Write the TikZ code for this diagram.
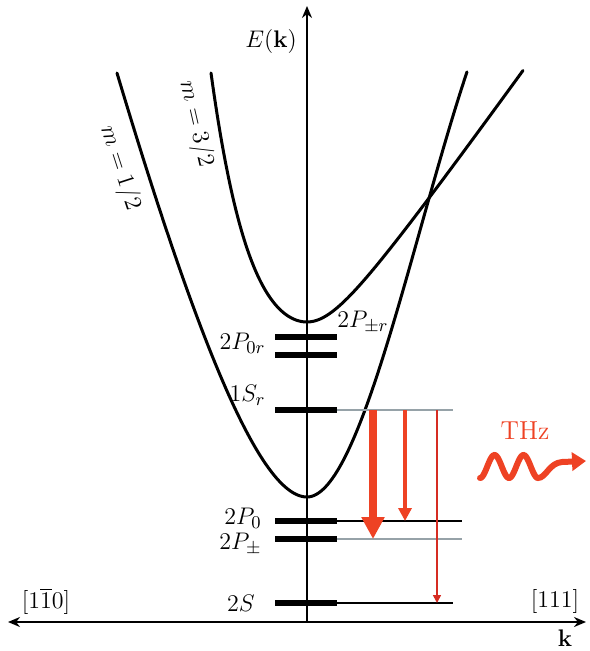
\documentclass[tikz,border=0pt]{standalone}
\usepackage{amsmath,amssymb}
\usepackage{tikz}
\usetikzlibrary{arrows.meta,positioning,calc}
\definecolor{EmitRed}{RGB}{238,66,36}
\definecolor{DeepRed}{RGB}{214,44,34}
\definecolor{GuideGray}{RGB}{150,162,168}

\begin{document}
\begin{tikzpicture}[x=0.5pt,y=-0.5pt,
  axis/.style={line width=1pt, -{Stealth[length=6pt,width=5pt]}},
  band/.style={line width=1.5pt, line cap=round, samples=70, smooth},
  level/.style={line width=2.6pt},
  guide/.style={line width=0.7pt},
  lbl/.style={font=\fontsize{13}{15}\selectfont, inner sep=1pt},
  trans/.style={color=EmitRed}
]
  \useasboundingbox (0,0) rectangle (589,651);

  % axes
  \coordinate (origin) at (307,622);
  \coordinate (etop) at (307,6);
  \coordinate (kleft) at (8,622);
  \coordinate (kright) at (586,622);
  \draw[axis] (origin) -- (etop);
  \draw[axis, {Stealth[length=6pt,width=5pt]}-{Stealth[length=6pt,width=5pt]}] (kleft) -- (kright);
  \node[lbl] (elabel) at (271,42) {$E(\mathbf{k})$};
  \node[lbl] (klabel) at (565,638) {$\mathbf{k}$};
  \node[lbl] (dirleft) at (46,601) {$[1\overline{1}0]$};
  \node[lbl] (dirright) at (555,601) {$[111]$};

  % bands (u = |k| in units of 10 px)
  \draw[band, domain=19:0] plot ({307-10*\x}, {497-100/(42.4+2.25*\x)*\x*\x});
  \draw[band, domain=0:16] plot ({307+10*\x}, {497-3.115*\x*\x+0.0909*\x*\x*\x});
  \draw[band, domain=9.6:0] plot ({307-10*\x}, {322-1.625*\x*\x-0.01169*\x*\x*\x*\x});
  \draw[band, domain=0:21.6] plot ({307+10*\x}, {322-55*(sqrt(1+(\x/3.94)^2)-1)});
  \node[lbl, rotate=-72] (mhalf) at (120,168) {$m = 1/2$};
  \node[lbl, rotate=-77] (mthree) at (196,124) {$m = 3/2$};

  % guide lines
  \draw[guide, GuideGray] (337,410) coordinate (sr) -- (453,410) coordinate (sr-e);
  \draw[guide] (337,521) coordinate (pz) -- (462,521) coordinate (pz-e);
  \draw[guide, GuideGray] (337,539) coordinate (ppm) -- (462,539) coordinate (ppm-e);
  \draw[guide] (337,603) coordinate (ss) -- (453,603) coordinate (ss-e);

  % levels
  \draw[level] (275,337) -- (337,337);
  \draw[level] (275,355) -- (337,355);
  \draw[level] (275,410) -- (sr);
  \draw[level] (275,521) -- (pz);
  \draw[level] (275,539) -- (ppm);
  \draw[level] (275,603) -- (ss);
  \node[lbl, anchor=east] (l-pzr) at (268,343) {$2P_{0r}$};
  \node[lbl, anchor=west] (l-ppmr) at (335,322) {$2P_{\pm r}$};
  \node[lbl, anchor=east] (l-sr) at (268,395) {$1S_r$};
  \node[lbl, anchor=east] (l-pz) at (264,518) {$2P_0$};
  \node[lbl, anchor=east] (l-ppm) at (264,544) {$2P_{\pm}$};
  \node[lbl, anchor=east] (l-ss) at (257,603) {$2S$};

  % transitions
  \coordinate (t1a) at (373,410); \coordinate (t1b) at (373,539);
  \coordinate (t2a) at (405,410); \coordinate (t2b) at (405,521);
  \coordinate (t3a) at (437,410); \coordinate (t3b) at (437,603);
  \draw[trans, line width=3.6pt, -{Triangle[length=11pt,width=11pt]}] (t1a) -- (t1b);
  \draw[trans, line width=2.2pt, -{Triangle[length=6.5pt,width=6.5pt]}] (t2a) -- (t2b);
  \draw[trans, DeepRed, line width=0.8pt, -{Triangle[length=4pt,width=4pt]}] (t3a) -- (t3b);

  % emitted photon
  \node[lbl, text=EmitRed] (thz) at (525,431) {THz};
  \coordinate (wave-end) at (586,461);
  \draw[trans, line width=3pt, line cap=round, -{Triangle[length=7pt,width=9pt]}]
    plot[smooth, samples=50, domain=480:538] (\x, {466.5+11.5*cos(12.414*(\x-480))})
    .. controls (546,478) and (549,463) .. (562,462) -- (wave-end);
\end{tikzpicture}
\end{document}
